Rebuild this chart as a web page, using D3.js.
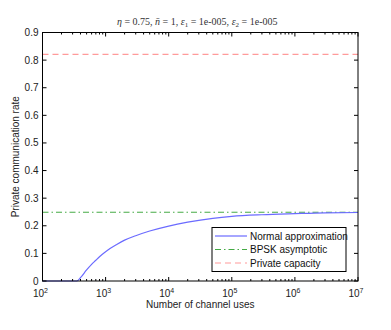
<!DOCTYPE html>
<html>
<head>
<meta charset="utf-8">
<script src="https://cdn.jsdelivr.net/npm/d3@7"></script>
<style>
  body { margin: 0; background: #fff; }
  svg { display: block; }
  text { font-family: "Liberation Sans", Arial, sans-serif; }
</style>
</head>
<body>
<svg id="chart" width="391" height="330"></svg>
<script>
// values
var channelUses = [100, 200, 300, 350, 400, 500, 600, 700, 800, 1000, 1500, 2000, 3000, 5000, 1e4, 2e4, 5e4, 1e5, 3e5, 1e6, 3e6, 1e7];
var normalApprox = [0, 0, 0, 0, 0.012, 0.040, 0.060, 0.075, 0.088, 0.106, 0.132, 0.148, 0.164, 0.181, 0.199, 0.213, 0.227, 0.234, 0.240, 0.244, 0.247, 0.248];
var bpskAsymptotic = 0.249;
var privateCapacity = 0.821;
var yTicks = [0, 0.1, 0.2, 0.3, 0.4, 0.5, 0.6, 0.7, 0.8, 0.9];
var xExponents = [2, 3, 4, 5, 6, 7];
var legendNames = ["Normal approximation", "BPSK asymptotic", "Private capacity"];

var plotL = 42.5, plotR = 358, plotT = 32.5, plotB = 281;
var svg = d3.select('#chart');

var x = d3.scaleLog().domain([1e2, 1e7]).range([plotL, plotR]);
var y = d3.scaleLinear().domain([0, 0.9]).range([plotB, plotT]);

// minor ticks for the log axis
var minor = [];
xExponents.slice(0, -1).forEach(function(e) {
    for (var k = 2; k <= 9; k++) minor.push(k * Math.pow(10, e));
});

var line = d3.line().x(function(d) { return x(d[0]); }).y(function(d) { return y(d[1]); });

// curves
svg.append('path')
    .attr('d', line([[1e2, privateCapacity], [1e7, privateCapacity]]))
    .attr('fill', 'none').attr('stroke', '#ff9a9a').attr('stroke-width', 1.2)
    .attr('stroke-dasharray', '6,4');
svg.append('path')
    .attr('d', line([[1e2, bpskAsymptotic], [1e7, bpskAsymptotic]]))
    .attr('fill', 'none').attr('stroke', '#44aa44').attr('stroke-width', 1)
    .attr('stroke-dasharray', '6,3,1.5,3');
svg.append('path')
    .attr('d', line.curve(d3.curveMonotoneX)(d3.zip(channelUses, normalApprox)))
    .attr('fill', 'none').attr('stroke', '#6b6bff').attr('stroke-width', 1.2);

// axes box with inward ticks
var g = svg.append('g').attr('stroke', '#000').attr('stroke-width', 1);
g.append('rect').attr('x', plotL).attr('y', plotT).attr('width', plotR - plotL).attr('height', plotB - plotT)
    .attr('fill', 'none');

xExponents.forEach(function(e) {
    var px = x(Math.pow(10, e));
    g.append('line').attr('x1', px).attr('x2', px).attr('y1', plotB).attr('y2', plotB - 4);
    g.append('line').attr('x1', px).attr('x2', px).attr('y1', plotT).attr('y2', plotT + 4);
});
minor.forEach(function(v) {
    var px = x(v);
    g.append('line').attr('x1', px).attr('x2', px).attr('y1', plotB).attr('y2', plotB - 2);
    g.append('line').attr('x1', px).attr('x2', px).attr('y1', plotT).attr('y2', plotT + 2);
});
yTicks.forEach(function(v) {
    var py = y(v);
    g.append('line').attr('x1', plotL).attr('x2', plotL + 4).attr('y1', py).attr('y2', py);
    g.append('line').attr('x1', plotR).attr('x2', plotR - 4).attr('y1', py).attr('y2', py);
});

// tick labels
yTicks.forEach(function(v) {
    svg.append('text').attr('x', plotL - 4).attr('y', y(v) + 3.5)
        .attr('text-anchor', 'end').attr('font-size', 10).attr('fill', '#222')
        .text(d3.format('')(v));
});
xExponents.forEach(function(e) {
    var t = svg.append('text').attr('x', x(Math.pow(10, e)) - 2).attr('y', 297)
        .attr('text-anchor', 'middle').attr('font-size', 10).attr('fill', '#222');
    t.append('tspan').text('10');
    t.append('tspan').attr('dy', -4).attr('font-size', 7).text(e);
});

// axis labels and title
svg.append('text').attr('x', (plotL + plotR) / 2).attr('y', 308)
    .attr('text-anchor', 'middle').attr('font-size', 10).attr('fill', '#222')
    .text('Number of channel uses');
svg.append('text').attr('transform', 'translate(19,' + ((plotT + plotB) / 2) + ') rotate(-90)')
    .attr('text-anchor', 'middle').attr('font-size', 10).attr('fill', '#222')
    .text('Private communication rate');

var title = svg.append('text').attr('x', (plotL + plotR) / 2 - 3).attr('y', 25)
    .attr('text-anchor', 'middle').attr('font-size', 10).attr('fill', '#333')
    .style('font-family', '"Liberation Serif", "DejaVu Serif", serif');
title.append('tspan').attr('font-style', 'italic').text('η');
title.append('tspan').text(' = 0.75, ');
title.append('tspan').attr('font-style', 'italic').text('n̄');
title.append('tspan').text(' = 1, ');
title.append('tspan').attr('font-style', 'italic').text('ε');
title.append('tspan').attr('dy', 2).attr('font-size', 7).text('1');
title.append('tspan').attr('dy', -2).text(' = 1e-005, ');
title.append('tspan').attr('font-style', 'italic').text('ε');
title.append('tspan').attr('dy', 2).attr('font-size', 7).text('2');
title.append('tspan').attr('dy', -2).text(' = 1e-005');

// legend
var lx = 212, ly = 227.5, lw = 134, lh = 44;
svg.append('rect').attr('x', lx).attr('y', ly).attr('width', lw).attr('height', lh)
    .attr('fill', '#fff').attr('stroke', '#000').attr('stroke-width', 1);
var legendStyles = [
    { color: '#6b6bff', dash: null },
    { color: '#44aa44', dash: '6,3,1.5,3' },
    { color: '#ff9a9a', dash: '6,4' }
];
legendNames.forEach(function(name, i) {
    var ry = ly + 8.5 + i * 13.5;
    svg.append('line').attr('x1', lx + 3).attr('x2', lx + 35).attr('y1', ry).attr('y2', ry)
        .attr('stroke', legendStyles[i].color).attr('stroke-width', 1.2)
        .attr('stroke-dasharray', legendStyles[i].dash);
    svg.append('text').attr('x', lx + 38).attr('y', ry + 3.5)
        .attr('font-size', 10).attr('fill', '#111').text(name);
});
</script>
</body>
</html>
